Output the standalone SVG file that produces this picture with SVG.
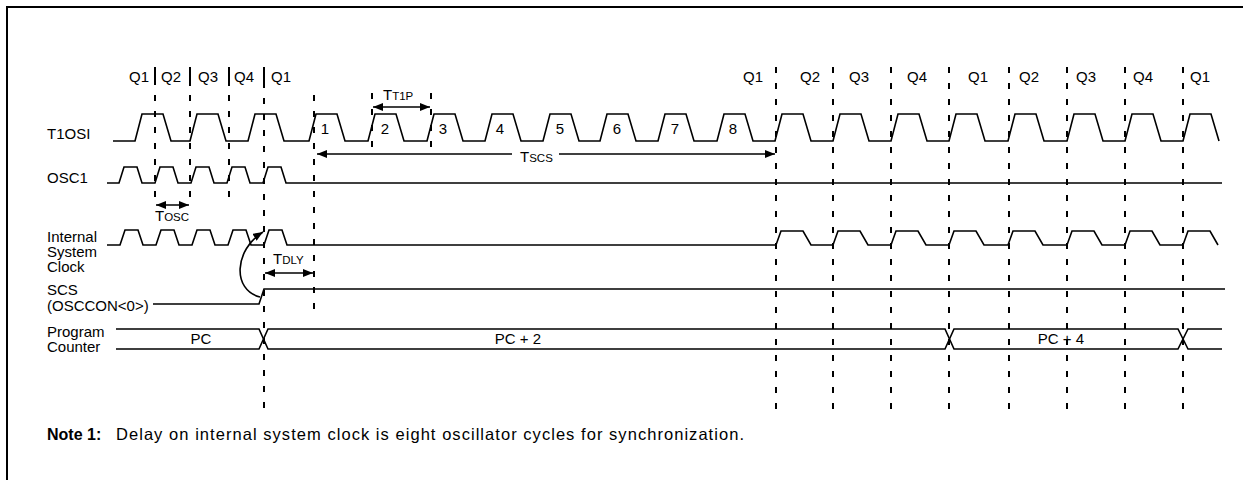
<svg xmlns="http://www.w3.org/2000/svg" width="1243" height="480" viewBox="0 0 1243 480">
<style>
text{font-family:"Liberation Sans",Arial,Helvetica,sans-serif;font-size:15px;fill:#000}
.sig{fill:none;stroke:#000;stroke-width:1.6;stroke-linejoin:miter}
.dash{fill:none;stroke:#000;stroke-width:2;stroke-dasharray:6 10}
.bar{fill:none;stroke:#000;stroke-width:2}
.arr{fill:none;stroke:#000;stroke-width:1.6}
.num{text-anchor:middle}
.sub{font-size:11.5px}
text.note{font-size:16.5px}
text.noteb{font-size:16px;font-weight:bold}
</style>
<defs>
<marker id="ah" viewBox="0 0 10 8" refX="10" refY="4" markerWidth="10" markerHeight="8" markerUnits="userSpaceOnUse" orient="auto-start-reverse">
<path d="M0,0 L10,4 L0,8 Z" fill="#000"/>
</marker>
</defs>
<path d="M7,480 V7 H1243" fill="none" stroke="#000" stroke-width="2"/>

<g id="connectors">
<line class="bar" x1="155" y1="67" x2="155" y2="85"/>
<line class="bar" x1="190" y1="67" x2="190" y2="86"/>
<line class="bar" x1="229" y1="67" x2="229" y2="86"/>
<line class="bar" x1="264" y1="67" x2="264" y2="88"/>
<line class="dash" x1="155" y1="95" x2="155" y2="204"/>
<line class="dash" x1="190" y1="95" x2="190" y2="204"/>
<line class="dash" x1="229" y1="95" x2="229" y2="204"/>
<line class="dash" x1="264" y1="98" x2="264" y2="410"/>
<line class="dash" x1="314" y1="95" x2="314" y2="312"/>
<line class="dash" x1="372" y1="93" x2="372" y2="152"/>
<line class="dash" x1="431" y1="93" x2="431" y2="152"/>
<line class="dash" x1="776" y1="67" x2="776" y2="410"/>
<line class="dash" x1="833" y1="67" x2="833" y2="410"/>
<line class="dash" x1="891" y1="67" x2="891" y2="410"/>
<line class="dash" x1="949" y1="67" x2="949" y2="410"/>
<line class="dash" x1="1009" y1="67" x2="1009" y2="410"/>
<line class="dash" x1="1067" y1="67" x2="1067" y2="410"/>
<line class="dash" x1="1125" y1="67" x2="1125" y2="410"/>
<line class="dash" x1="1183" y1="67" x2="1183" y2="410"/>
<line class="arr" x1="373" y1="107" x2="430" y2="107" marker-start="url(#ah)" marker-end="url(#ah)"/>
<line class="arr" x1="317" y1="154" x2="512" y2="154" marker-start="url(#ah)"/>
<line class="arr" x1="559" y1="154" x2="775" y2="154" marker-end="url(#ah)"/>
<line class="arr" x1="156" y1="205" x2="189" y2="205" marker-start="url(#ah)" marker-end="url(#ah)"/>
<line class="arr" x1="265" y1="273" x2="313" y2="273" marker-start="url(#ah)" marker-end="url(#ah)"/>
<path class="arr" d="M260,297 C232,290 234,250 263,232" marker-end="url(#ah)"/>
</g>

<g id="t1osi">
<text x="47" y="139">T1OSI</text>
<path class="sig" d="M113,141 L135,141 L142,114 L163,114 L171,141 L190,141 L197,114 L218,114 L226,141 L248,141 L255,114 L276,114 L284,141 L309,141 L316,114 L337,114 L345,141 L368,141 L375,114 L396,114 L404,141 L427,141 L434,114 L455,114 L463,141 L485,141 L492,114 L513,114 L521,141 L543,141 L550,114 L571,114 L579,141 L600,141 L607,114 L628,114 L636,141 L658,141 L665,114 L686,114 L694,141 L717,141 L724,114 L745,114 L753,141 L775,141 L782,114 L803,114 L811,141 L833,141 L840,114 L861,114 L869,141 L891,141 L898,114 L919,114 L927,141 L949,141 L956,114 L977,114 L985,141 L1008,141 L1015,114 L1036,114 L1044,141 L1067,141 L1074,114 L1095,114 L1103,141 L1125,141 L1132,114 L1153,114 L1161,141 L1183,141 L1190,114 L1211,114 L1219,141"/>
<text class="num" x="325" y="134">1</text>
<text class="num" x="385" y="134">2</text>
<text class="num" x="443" y="134">3</text>
<text class="num" x="500" y="134">4</text>
<text class="num" x="560" y="134">5</text>
<text class="num" x="617" y="134">6</text>
<text class="num" x="675" y="134">7</text>
<text class="num" x="733" y="134">8</text>
</g>

<g id="q-labels">
<text class="num" x="139" y="82">Q1</text>
<text class="num" x="171" y="82">Q2</text>
<text class="num" x="208" y="82">Q3</text>
<text class="num" x="244" y="82">Q4</text>
<text class="num" x="281" y="82">Q1</text>
<text class="num" x="753" y="82">Q1</text>
<text class="num" x="810" y="82">Q2</text>
<text class="num" x="859" y="82">Q3</text>
<text class="num" x="917" y="82">Q4</text>
<text class="num" x="978" y="82">Q1</text>
<text class="num" x="1029" y="82">Q2</text>
<text class="num" x="1086" y="82">Q3</text>
<text class="num" x="1143" y="82">Q4</text>
<text class="num" x="1200" y="82">Q1</text>
</g>

<g id="timing-labels">
<text x="383" y="100">T<tspan class="sub">T1P</tspan></text>
<text x="520" y="162">T<tspan class="sub">SCS</tspan></text>
<text x="155" y="221">T<tspan class="sub">OSC</tspan></text>
<text x="273" y="264">T<tspan class="sub">DLY</tspan></text>
</g>

<g id="osc1">
<text x="47" y="183">OSC1</text>
<path class="sig" d="M107,183 L119,183 L124,167 L137,167 L142,183 L155,183 L160,167 L173,167 L178,183 L191,183 L196,167 L209,167 L214,183 L227,183 L232,167 L245,167 L250,183 L263,183 L268,167 L281,167 L286,183 L1222,183"/>
</g>

<g id="internal-clock">
<text x="47" y="242">Internal</text>
<text x="47" y="257">System</text>
<text x="47" y="272">Clock</text>
<path class="sig" d="M107,245 L120,245 L125,230 L138,230 L143,245 L156,245 L161,230 L174,230 L179,245 L192,245 L197,230 L210,230 L215,245 L228,245 L233,230 L246,230 L251,245 L264,245 L269,230 L282,230 L287,245 L776,245 L781,231 L803,231 L811,245 L833,245 L838,231 L860,231 L868,245 L891,245 L896,231 L918,231 L926,245 L949,245 L954,231 L976,231 L984,245 L1008,245 L1013,231 L1035,231 L1043,245 L1067,245 L1072,231 L1094,231 L1102,245 L1125,245 L1130,231 L1152,231 L1160,245 L1183,245 L1188,231 L1210,231 L1218,245"/>
</g>

<g id="scs">
<text x="47" y="295">SCS</text>
<text x="47" y="311">(OSCCON&lt;0&gt;)</text>
<path class="sig" d="M153,304 L259,304 L264,289 L1225,289" stroke-width="1.4"/>
</g>

<g id="program-counter">
<text x="47" y="337">Program</text>
<text x="47" y="352">Counter</text>
<path class="sig" d="M116,329 H259 L268,349 H945 L954,329 H1178 L1188,349 H1222"/>
<path class="sig" d="M116,349 H259 L268,329 H945 L954,349 H1178 L1188,329 H1222"/>
<text class="num" x="201" y="344">PC</text>
<text class="num" x="518" y="344">PC + 2</text>
<text class="num" x="1061" y="344">PC + 4</text>
</g>

<g id="note">
<text class="noteb" x="47" y="440">Note 1:</text>
<text class="note" x="116" y="440" textLength="628" lengthAdjust="spacing">Delay on internal system clock is eight oscillator cycles for synchronization.</text>
</g>
</svg>
